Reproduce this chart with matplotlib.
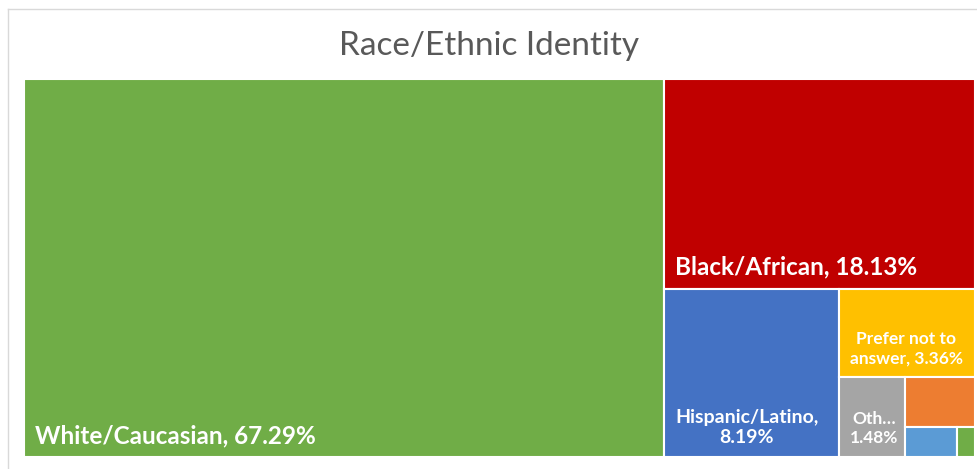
import matplotlib
matplotlib.use("Agg")
import matplotlib.pyplot as plt
from matplotlib.patches import Rectangle

# Share of respondents by race / ethnic identity (percent)
categories = ["White/Caucasian", "Black/African", "Hispanic/Latino",
              "Prefer not to answer", "Other", "Asian", "Multiracial",
              "Native American"]
values = [67.29, 18.13, 8.19, 3.36, 1.48, 0.97, 0.43, 0.15]
colors = ["#70AD47", "#C00000", "#4472C4", "#FFC000", "#A5A5A5",
          "#ED7D31", "#5B9BD5", "#70AD47"]
# How each tile's label is broken into lines (None = tile too small for a label)
label_formats = ["{n}, {v:.2f}%", "{n}, {v:.2f}%", "{n},\n{v:.2f}%",
                 "Prefer not to\nanswer, {v:.2f}%", "Oth…\n{v:.2f}%",
                 None, None, None]

W_PX, H_PX = 978, 469
DPI = 100
MAP_L, MAP_R, MAP_T, MAP_B = 24, 975, 79, 457
W, H = MAP_R - MAP_L, MAP_B - MAP_T


def worst(row, short):
    s = sum(row)
    return max(max(short * short * r / (s * s), (s * s) / (short * short * r)) for r in row)


def squarify(sizes, x, y, w, h):
    total = sum(sizes)
    sizes = [v * w * h / total for v in sizes]
    rects = []
    while sizes:
        short = min(w, h)
        row = [sizes[0]]
        i = 1
        while i < len(sizes) and worst(row + [sizes[i]], short) <= worst(row, short):
            row.append(sizes[i])
            i += 1
        sizes = sizes[i:]
        s = sum(row)
        if w >= h:
            cw = s / h
            yy = y
            for r in row:
                rh = r / cw
                rects.append((x, yy, cw, rh))
                yy += rh
            x += cw
            w -= cw
        else:
            rh = s / w
            xx = x
            for r in row:
                rw = r / rh
                rects.append((xx, y, rw, rh))
                xx += rw
            y += rh
            h -= rh
    return rects


fig = plt.figure(figsize=(W_PX / DPI, H_PX / DPI), dpi=DPI)
fig.patch.set_facecolor("white")

# chart-area frame (open at the bottom and right, where the area continues)
frame = fig.add_axes([8 / W_PX, -0.1, 1.2, 1.1 - 9 / H_PX])
frame.set_xticks([])
frame.set_yticks([])
for side, sp in frame.spines.items():
    sp.set_color("#D9D9D9")
    sp.set_linewidth(1.0)
frame.patch.set_alpha(0)

fig.text(0.5, 1 - 46 / H_PX, "Race/Ethnic Identity", ha="center", va="center",
         fontsize=24, color="#595959", family="Lato")

ax = fig.add_axes([MAP_L / W_PX, 1 - MAP_B / H_PX, W / W_PX, H / H_PX])
ax.set_xlim(0, W)
ax.set_ylim(H, 0)
ax.axis("off")

rects = squarify(values, 0, 0, W, H)
for (x, y, w, h), name, v, c, fmt in zip(rects, categories, values, colors, label_formats):
    ax.add_patch(Rectangle((x, y), w, h, facecolor=c, edgecolor="white", linewidth=1.5))
    if fmt is None:
        continue
    area = w * h
    if area > 60000:
        fs = 17.5
    elif area > 20000:
        fs = 14
    else:
        fs = 12.5
    ax.text(x + 11, y + h - 14, fmt.format(n=name, v=v), ha="left", va="baseline",
            multialignment="center", fontsize=fs, fontweight="bold",
            color="white", family="Lato", linespacing=1.25)

fig.savefig("out.png", dpi=DPI, facecolor="white")
